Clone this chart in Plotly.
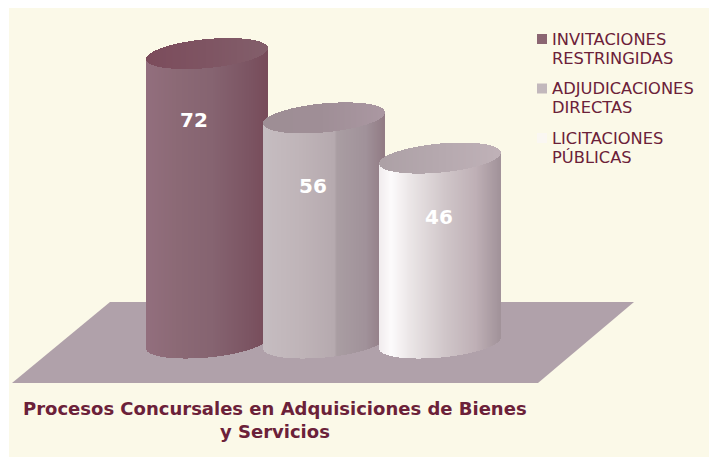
import plotly.graph_objects as go
import numpy as np

# ---- data ----
categories = ["INVITACIONES<br>RESTRINGIDAS", "ADJUDICACIONES<br>DIRECTAS", "LICITACIONES<br>PÚBLICAS"]
values = [72, 56, 46]
legend_colors = ["#8b6672", "#c2b8bc", "#faf7f2"]
title_lines = ["Procesos Concursales en Adquisiciones de Bienes", "y Servicios"]

# ---- shading styles (colour stops across each cylinder, left to right) ----
body_stops = [
    [(0, "#936f7e"), (0.25, "#8c6a76"), (0.55, "#866471"), (0.85, "#7c5563"), (1, "#784c5a")],
    [(0, "#c6bdc1"), (0.3, "#c0b5b9"), (0.59, "#b6aaaf"), (0.61, "#aa9ea3"), (0.85, "#a1929a"), (1, "#927c85")],
    [(0, "#f1ecee"), (0.1, "#fdfbfc"), (0.25, "#ece7e8"), (0.55, "#d0c6c9"), (0.8, "#bfb0b6"), (1, "#a2939a")],
]
cap_stops = [
    [(0, "#7c4c5c"), (0.5, "#7f5563"), (1, "#835f6b")],
    [(0, "#9e8e95"), (0.5, "#a08f97"), (1, "#ab98a2")],
    [(0, "#ada1a6"), (0.5, "#b6a9af"), (1, "#c0b2b8")],
]
BG = "#fbf9e8"
FLOOR = "#b0a1aa"
TEXT = "#6b2139"

# ---- layout constants (pixels of the 709x457 page) ----
W, H = 709, 457
ML, MT = 9, 8
PX_PER_UNIT = 4.02     # vertical pixels per value unit
BASE_PX = 343          # page y of value 0
C0_PX, STEP_PX = 207.5, 116.2  # page x of category 0, spacing of categories
HALF_PX = 60.5         # cylinder half width
B_PX, K_PX = 14.5, 5.5 # ellipse semi-minor axis, tilt
N = 121

x_range = [(ML - C0_PX) / STEP_PX, (W - C0_PX) / STEP_PX]
y_range = [(BASE_PX - H) / PX_PER_UNIT, (BASE_PX - MT) / PX_PER_UNIT]


def X(px):
    return (px - C0_PX) / STEP_PX


def Y(py):
    return (BASE_PX - py) / PX_PER_UNIT


def ramp(stops, t):
    ps = [s[0] for s in stops]
    cs = np.array([[int(s[1][i:i + 2], 16) for i in (1, 3, 5)] for s in stops], float)
    return "rgb(%d,%d,%d)" % tuple(np.interp(t, ps, cs[:, j]) for j in range(3))


fig = go.Figure()

half = HALF_PX / STEP_PX
b = B_PX / PX_PER_UNIT
k = K_PX / PX_PER_UNIT
u = np.linspace(-1, 1, N) * (1 - 1 / N)
strip_w = 2 * half / N * 1.15

for i, (cat, val) in enumerate(zip(categories, values)):
    xs = i + u * half
    bulge = b * np.sqrt(1 - u ** 2)
    tilt = k * u
    low = tilt - bulge
    up = tilt + bulge
    t = (u + 1) / 2
    # shaded cylinder wall, bottom curve to front edge of the top ellipse
    fig.add_trace(go.Bar(x=xs, base=low, y=np.full(N, val), width=strip_w, name=cat.replace("<br>", " "),
                         marker=dict(color=[ramp(body_stops[i], a) for a in t], line_width=0),
                         showlegend=False, hoverinfo="skip"))
    # top ellipse
    fig.add_trace(go.Bar(x=xs, base=val + low, y=up - low, width=strip_w,
                         marker=dict(color=[ramp(cap_stops[i], a) for a in t], line_width=0),
                         showlegend=False, hoverinfo="skip"))

# floor
floor_pts = [(110, 302), (634, 302), (538, 383), (12, 383)]
floor_path = "M " + " L ".join(f"{X(a)},{Y(c)}" for a, c in floor_pts) + " Z"

# value labels sit on the wall of each cylinder
label_px = [(194, 120), (313, 186), (439, 217)]
annos = [dict(x=X(a), y=Y(c), text=f"<b>{v}</b>", showarrow=False, xref="x", yref="y",
              font=dict(family="DejaVu Sans", size=20, color="#ffffff"))
         for (a, c), v in zip(label_px, values)]

# title, one annotation per line
for line, py in zip(title_lines, [408, 431]):
    annos.append(dict(x=X(274.5), y=Y(py), xref="x", yref="y", text=f"<b>{line}</b>", showarrow=False,
                      font=dict(family="DejaVu Sans", size=18, color=TEXT)))

# legend: swatch plus two lines of text per category
LEG_X, SWATCH_X, LEG_Y0, LEG_PITCH, LINE_PITCH = 550, 542, 39, 49.5, 19
for i, cat in enumerate(categories):
    for j, line in enumerate(cat.split("<br>")):
        annos.append(dict(x=X(LEG_X), y=Y(LEG_Y0 + i * LEG_PITCH + j * LINE_PITCH), xref="x", yref="y",
                          xanchor="left", text=line, showarrow=False,
                          font=dict(family="DejaVu Sans", size=16.3, color=TEXT)))
fig.add_trace(go.Scatter(
    x=[X(SWATCH_X)] * len(categories),
    y=[Y(LEG_Y0 + i * LEG_PITCH) for i in range(len(categories))],
    mode="markers",
    marker=dict(symbol="square", size=10, color=legend_colors, line_width=0),
    showlegend=False, hoverinfo="skip"))

fig.update_layout(
    width=W, height=H,
    autosize=False,
    margin=dict(l=ML, r=0, t=MT, b=0, pad=0),
    paper_bgcolor="#ffffff",
    plot_bgcolor=BG,
    barmode="overlay",
    bargap=0,
    xaxis=dict(range=x_range, visible=False, fixedrange=True),
    yaxis=dict(range=y_range, visible=False, fixedrange=True),
    shapes=[dict(type="path", path=floor_path, xref="x", yref="y", layer="below",
                 fillcolor=FLOOR, line_width=0)],
    annotations=annos,
    showlegend=False,
)

fig.write_html("out.html", config={"displayModeBar": False},
               post_script="document.body.style.margin='0';document.body.style.overflow='hidden';")
